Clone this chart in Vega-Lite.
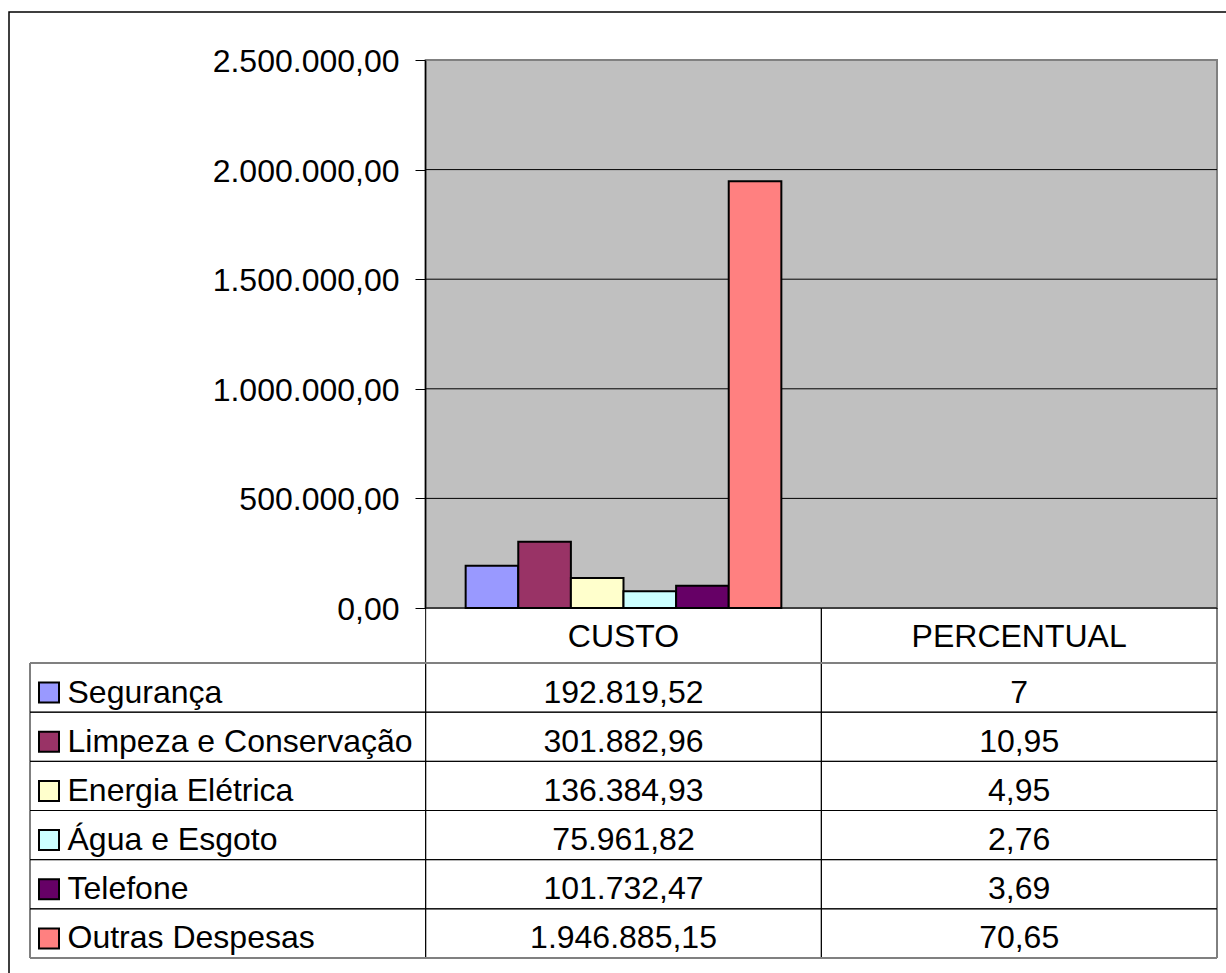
{
  "$schema": "https://vega.github.io/schema/vega-lite/v6.json",
  "width": 1237,
  "height": 981,
  "autosize": "none",
  "padding": {"left": 9, "top": 12, "right": -20, "bottom": -20},
  "background": "white",
  "config": {
    "view": {"stroke": "#000", "strokeWidth": 1.5},
    "locale": {"number": {"decimal": ",", "thousands": ".", "grouping": [3], "currency": ["R$ ", ""]}},
    "text": {"font": "Liberation Sans", "fontSize": 32, "color": "#000"}
  },
  "datasets": {
    "rows": [
      {"cat": "Segurança", "col": "CUSTO", "value": 192819.52, "txt": "192.819,52"},
      {"cat": "Segurança", "col": "PERCENTUAL", "value": 7, "txt": "7"},
      {"cat": "Limpeza e Conservação", "col": "CUSTO", "value": 301882.96, "txt": "301.882,96"},
      {"cat": "Limpeza e Conservação", "col": "PERCENTUAL", "value": 10.95, "txt": "10,95"},
      {"cat": "Energia Elétrica", "col": "CUSTO", "value": 136384.93, "txt": "136.384,93"},
      {"cat": "Energia Elétrica", "col": "PERCENTUAL", "value": 4.95, "txt": "4,95"},
      {"cat": "Água e Esgoto", "col": "CUSTO", "value": 75961.82, "txt": "75.961,82"},
      {"cat": "Água e Esgoto", "col": "PERCENTUAL", "value": 2.76, "txt": "2,76"},
      {"cat": "Telefone", "col": "CUSTO", "value": 101732.47, "txt": "101.732,47"},
      {"cat": "Telefone", "col": "PERCENTUAL", "value": 3.69, "txt": "3,69"},
      {"cat": "Outras Despesas", "col": "CUSTO", "value": 1946885.15, "txt": "1.946.885,15"},
      {"cat": "Outras Despesas", "col": "PERCENTUAL", "value": 70.65, "txt": "70,65"}
    ],
    "cols": [{"col": "CUSTO"}, {"col": "PERCENTUAL"}],
    "grid": [{"v": 500000}, {"v": 1000000}, {"v": 1500000}, {"v": 2000000}],
    "plot": [{"area": "plot"}]
  },
  "resolve": {"scale": {"y": "independent"}},
  "layer": [
    {
      "data": {"name": "plot"},
      "mark": {"type": "rect", "fill": "#C0C0C0", "stroke": "#808080", "strokeWidth": 2},
      "encoding": {
        "x": {"datum": "CUSTO", "type": "nominal", "bandPosition": 0, "scale": {"type": "band", "domain": ["label", "CUSTO", "PERCENTUAL"], "range": [21, 1208], "paddingInner": 0, "paddingOuter": 0}, "axis": null},
        "x2": {"datum": "PERCENTUAL", "bandPosition": 1},
        "y": {"datum": 0, "type": "quantitative", "scale": {"type": "linear", "domain": [0, 2500000], "range": [596, 48], "nice": false}, "axis": null},
        "y2": {"datum": 2500000}
      }
    },
    {
      "data": {"name": "grid"},
      "mark": {"type": "rule", "color": "#000", "strokeWidth": 1},
      "encoding": {
        "x": {"datum": "CUSTO", "type": "nominal", "bandPosition": 0, "scale": {"type": "band", "domain": ["label", "CUSTO", "PERCENTUAL"], "range": [21, 1208], "paddingInner": 0, "paddingOuter": 0}, "axis": null},
        "x2": {"datum": "PERCENTUAL", "bandPosition": 1},
        "y": {"field": "v", "type": "quantitative", "scale": {"type": "linear", "domain": [0, 2500000], "range": [596, 48], "nice": false}, "axis": null}
      }
    },
    {
      "data": {"name": "rows"},
      "transform": [{"filter": {"field": "col", "equal": "CUSTO"}}],
      "mark": {"type": "bar", "stroke": "#000", "strokeWidth": 2},
      "encoding": {
        "x": {"field": "col", "type": "nominal", "scale": {"type": "band", "domain": ["label", "CUSTO", "PERCENTUAL"], "range": [21, 1208], "paddingInner": 0, "paddingOuter": 0}, "axis": null},
        "xOffset": {"field": "cat", "type": "nominal", "scale": {"domain": ["Segurança", "Limpeza e Conservação", "Energia Elétrica", "Água e Esgoto", "Telefone", "Outras Despesas"], "paddingInner": 0, "paddingOuter": 0.76}},
        "y": {"field": "value", "type": "quantitative", "scale": {"type": "linear", "domain": [0, 2500000], "range": [596, 48], "nice": false},
          "axis": {"orient": "left", "offset": -416, "values": [0, 500000, 1000000, 1500000, 2000000, 2500000], "format": ",.2f", "labelFont": "Liberation Sans", "labelFontSize": 32, "labelLimit": 0, "labelColor": "#000", "tickColor": "#000", "tickSize": 10, "tickWidth": 1, "domainColor": "#000", "domainWidth": 1.5, "labelPadding": 16, "labelOffset": 1.5, "grid": false, "title": null, "zindex": 1, "labelOverlap": false}},
        "color": {"field": "cat", "type": "nominal", "scale": {"domain": ["Segurança", "Limpeza e Conservação", "Energia Elétrica", "Água e Esgoto", "Telefone", "Outras Despesas"], "range": ["#9999FF", "#993366", "#FFFFCC", "#CCFFFF", "#660066", "#FF8080"]}, "legend": null}
      }
    },
    {
      "data": {"name": "cols"},
      "mark": {"type": "rect", "fill": "transparent", "stroke": "#000", "strokeWidth": 1},
      "encoding": {
        "x": {"field": "col", "type": "nominal", "scale": {"type": "band", "domain": ["label", "CUSTO", "PERCENTUAL"], "range": [21, 1208], "paddingInner": 0, "paddingOuter": 0}, "axis": null},
        "y": {"datum": "hdr", "type": "nominal", "scale": {"type": "band", "domain": ["hdr"], "range": [596, 651], "paddingInner": 0, "paddingOuter": 0}, "axis": null}
      }
    },
    {
      "data": {"name": "rows"},
      "mark": {"type": "rect", "fill": "transparent", "stroke": "#000", "strokeWidth": 1},
      "encoding": {
        "x": {"field": "col", "type": "nominal", "scale": {"type": "band", "domain": ["label", "CUSTO", "PERCENTUAL"], "range": [21, 1208], "paddingInner": 0, "paddingOuter": 0}, "axis": null},
        "y": {"field": "cat", "type": "nominal", "scale": {"type": "band", "domain": ["Segurança", "Limpeza e Conservação", "Energia Elétrica", "Água e Esgoto", "Telefone", "Outras Despesas"], "range": [651, 946], "paddingInner": 0, "paddingOuter": 0}, "axis": null}
      }
    },
    {
      "data": {"name": "rows"},
      "transform": [{"filter": {"field": "col", "equal": "CUSTO"}}],
      "mark": {"type": "rect", "fill": "transparent", "stroke": "#000", "strokeWidth": 1},
      "encoding": {
        "x": {"datum": "label", "type": "nominal", "scale": {"type": "band", "domain": ["label", "CUSTO", "PERCENTUAL"], "range": [21, 1208], "paddingInner": 0, "paddingOuter": 0}, "axis": null},
        "y": {"field": "cat", "type": "nominal", "scale": {"type": "band", "domain": ["Segurança", "Limpeza e Conservação", "Energia Elétrica", "Água e Esgoto", "Telefone", "Outras Despesas"], "range": [651, 946], "paddingInner": 0, "paddingOuter": 0}, "axis": null}
      }
    },
    {
      "data": {"name": "plot"},
      "mark": {"type": "rule", "color": "#808080", "strokeWidth": 2},
      "encoding": {
        "x": {"datum": "label", "type": "nominal", "bandPosition": 0, "scale": {"type": "band", "domain": ["label", "CUSTO", "PERCENTUAL"], "range": [21, 1208], "paddingInner": 0, "paddingOuter": 0}, "axis": null},
        "x2": {"datum": "PERCENTUAL", "bandPosition": 1},
        "y": {"datum": "Segurança", "type": "nominal", "bandPosition": 0, "scale": {"type": "band", "domain": ["Segurança", "Limpeza e Conservação", "Energia Elétrica", "Água e Esgoto", "Telefone", "Outras Despesas"], "range": [651, 946], "paddingInner": 0, "paddingOuter": 0}, "axis": null}
      }
    },
    {
      "data": {"name": "plot"},
      "mark": {"type": "rule", "color": "#808080", "strokeWidth": 2},
      "encoding": {
        "x": {"datum": "label", "type": "nominal", "bandPosition": 0, "scale": {"type": "band", "domain": ["label", "CUSTO", "PERCENTUAL"], "range": [21, 1208], "paddingInner": 0, "paddingOuter": 0}, "axis": null},
        "x2": {"datum": "PERCENTUAL", "bandPosition": 1},
        "y": {"datum": "Outras Despesas", "type": "nominal", "bandPosition": 1, "scale": {"type": "band", "domain": ["Segurança", "Limpeza e Conservação", "Energia Elétrica", "Água e Esgoto", "Telefone", "Outras Despesas"], "range": [651, 946], "paddingInner": 0, "paddingOuter": 0}, "axis": null}
      }
    },
    {
      "data": {"name": "cols"},
      "mark": {"type": "text", "align": "center", "baseline": "middle", "dy": 1},
      "encoding": {
        "x": {"field": "col", "type": "nominal", "scale": {"type": "band", "domain": ["label", "CUSTO", "PERCENTUAL"], "range": [21, 1208], "paddingInner": 0, "paddingOuter": 0}, "axis": null},
        "y": {"datum": "hdr", "type": "nominal", "scale": {"type": "band", "domain": ["hdr"], "range": [596, 651], "paddingInner": 0, "paddingOuter": 0}, "axis": null},
        "text": {"field": "col"}
      }
    },
    {
      "data": {"name": "rows"},
      "mark": {"type": "text", "align": "center", "baseline": "middle", "dy": 5},
      "encoding": {
        "x": {"field": "col", "type": "nominal", "scale": {"type": "band", "domain": ["label", "CUSTO", "PERCENTUAL"], "range": [21, 1208], "paddingInner": 0, "paddingOuter": 0}, "axis": null},
        "y": {"field": "cat", "type": "nominal", "scale": {"type": "band", "domain": ["Segurança", "Limpeza e Conservação", "Energia Elétrica", "Água e Esgoto", "Telefone", "Outras Despesas"], "range": [651, 946], "paddingInner": 0, "paddingOuter": 0}, "axis": null},
        "text": {"field": "txt"}
      }
    },
    {
      "data": {"name": "rows"},
      "transform": [{"filter": {"field": "col", "equal": "CUSTO"}}],
      "mark": {"type": "text", "align": "left", "baseline": "middle", "dy": 5, "xOffset": 37.5},
      "encoding": {
        "x": {"datum": "label", "type": "nominal", "bandPosition": 0, "scale": {"type": "band", "domain": ["label", "CUSTO", "PERCENTUAL"], "range": [21, 1208], "paddingInner": 0, "paddingOuter": 0}, "axis": null},
        "y": {"field": "cat", "type": "nominal", "scale": {"type": "band", "domain": ["Segurança", "Limpeza e Conservação", "Energia Elétrica", "Água e Esgoto", "Telefone", "Outras Despesas"], "range": [651, 946], "paddingInner": 0, "paddingOuter": 0}, "axis": null},
        "text": {"field": "cat"}
      }
    },
    {
      "data": {"name": "rows"},
      "transform": [{"filter": {"field": "col", "equal": "CUSTO"}}],
      "mark": {"type": "square", "size": 400, "filled": true, "opacity": 1, "stroke": "#000", "strokeWidth": 2, "xOffset": 19, "yOffset": 5},
      "encoding": {
        "x": {"datum": "label", "type": "nominal", "bandPosition": 0, "scale": {"type": "band", "domain": ["label", "CUSTO", "PERCENTUAL"], "range": [21, 1208], "paddingInner": 0, "paddingOuter": 0}, "axis": null},
        "y": {"field": "cat", "type": "nominal", "scale": {"type": "band", "domain": ["Segurança", "Limpeza e Conservação", "Energia Elétrica", "Água e Esgoto", "Telefone", "Outras Despesas"], "range": [651, 946], "paddingInner": 0, "paddingOuter": 0}, "axis": null},
        "color": {"field": "cat", "type": "nominal", "scale": {"domain": ["Segurança", "Limpeza e Conservação", "Energia Elétrica", "Água e Esgoto", "Telefone", "Outras Despesas"], "range": ["#9999FF", "#993366", "#FFFFCC", "#CCFFFF", "#660066", "#FF8080"]}, "legend": null}
      }
    }
  ]
}
